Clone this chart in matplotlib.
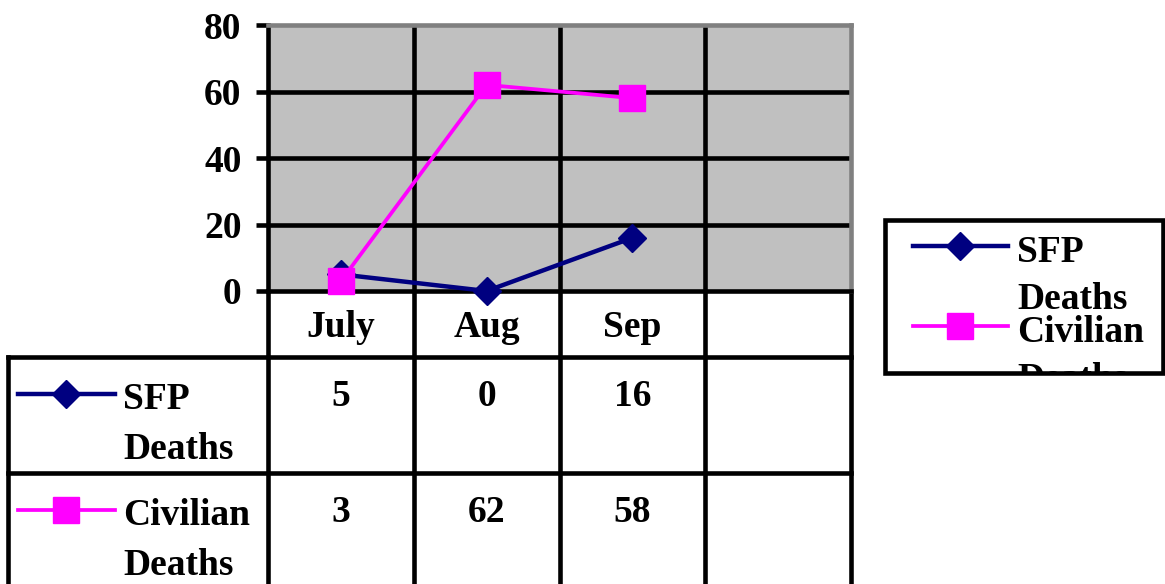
import matplotlib.pyplot as plt
from matplotlib.patches import Rectangle
import matplotlib.transforms as mtransforms

# data
months = ["July", "Aug", "Sep", ""]
sfp_deaths = [5, 0, 16]
civilian_deaths = [3, 62, 58]
series_names = ["SFP\nDeaths", "Civilian\nDeaths"]
yticks = [0, 20, 40, 60, 80]

navy = "#000080"
magenta = "#FF00FF"
font = {"family": "Liberation Serif", "weight": "bold", "size": 27}
W, H = 1165, 584
GRID_LW = 3.3

fig = plt.figure(figsize=(W / 100, H / 100), dpi=100)

# overlay in pixel coords for the data table and the legend
ov = fig.add_axes([0, 0, 1, 1])
ov.set_xlim(0, W)
ov.set_ylim(H, 0)
ov.axis("off")
ov.set_zorder(0)

ax = fig.add_axes([268 / W, 1 - 291 / H, (851 - 268) / W, (291 - 25) / H])
ax.set_zorder(1)
ax.set_facecolor("#C0C0C0")

x = list(range(len(sfp_deaths)))
ax.plot(x, sfp_deaths, color=navy, lw=3.2, marker="D", ms=14.5, clip_on=False, zorder=3)
ax.plot(x, civilian_deaths, color=magenta, lw=2.7, marker="s", ms=19, clip_on=False, zorder=4)

ax.set_xlim(-0.5, len(months) - 0.5)
ax.set_ylim(0, 80)
ax.set_yticks(yticks)
ax.set_yticklabels([str(v) for v in yticks], fontdict=font)
ax.set_xticks(range(len(months)))
ax.set_xticklabels(months, fontdict=font)
ax.tick_params(axis="y", length=9, width=GRID_LW, pad=10, color="black")
ax.tick_params(axis="x", length=0, pad=14)

for v in yticks[1:-1]:
    ax.axhline(v, color="black", lw=GRID_LW, zorder=1)
for b in [0.5, 1.5, 2.5]:
    ax.axvline(b, color="black", lw=GRID_LW, zorder=1)

for side, col in [("left", "black"), ("bottom", "black"), ("top", "#808080"), ("right", "#808080")]:
    ax.spines[side].set_color(col)
    ax.spines[side].set_linewidth(GRID_LW)

# data table below the plot
blend = mtransforms.blended_transform_factory(ax.transData, ov.transData)
for b in [-0.5, 0.5, 1.5, 2.5, 3.5]:
    ov.plot([b, b], [291, H + 5], color="black", lw=GRID_LW, transform=blend, clip_on=False)
row_tops = [357, 473]
for yt in row_tops:
    ov.plot([8, 851], [yt, yt], color="black", lw=GRID_LW)
ov.plot([8, 8], [357, H + 5], color="black", lw=GRID_LW, clip_on=False)

rows = [(sfp_deaths, navy, "D", 14.5, 3.2), (civilian_deaths, magenta, "s", 19, 2.7)]
for (vals, col, mk, ms, lw), name, yt in zip(rows, series_names, row_tops):
    yc = yt + 37
    ov.plot([18, 115], [yc, yc], color=col, lw=lw)
    ov.plot([66], [yc], color=col, marker=mk, ms=ms)
    ov.text(123, yc - 12, name, fontdict=font, va="top", ha="left", linespacing=1.56)
    for i, v in enumerate(vals):
        ov.text(i, yc + 2, str(v), fontdict=font, ha="center", va="center", transform=blend)

# legend box on the right, text clipped at the box like the original
box = Rectangle((885, 220), 278, 153, fill=False, ec="black", lw=GRID_LW)
ov.add_patch(box)
clip_box = mtransforms.TransformedBbox(
    mtransforms.Bbox([[885, 220], [1163, 372]]), ov.transData)
for (vals, col, mk, ms, lw), name, yc in zip(rows, series_names, [246, 326]):
    ov.plot([913, 1008], [yc, yc], color=col, lw=lw)
    ov.plot([960], [yc], color=col, marker=mk, ms=ms)
    t = ov.text(1017, yc - 11, name, fontdict=font, va="top", ha="left", linespacing=1.44)
    t.set_clip_box(clip_box)
    t.set_clip_on(True)

fig.savefig("out.png", dpi=100)
